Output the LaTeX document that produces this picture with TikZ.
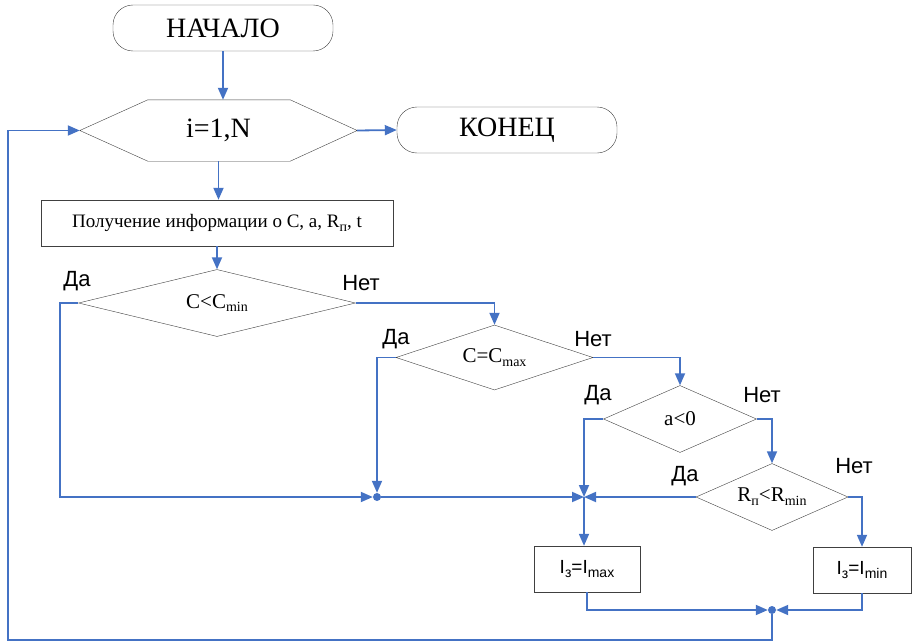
\documentclass[tikz,border=0pt]{standalone}
\usepackage{fontspec}
\setmainfont{Liberation Serif}
\newfontfamily\labelfont{Liberation Sans}
\usetikzlibrary{shapes.geometric,arrows.meta}
\definecolor{lineblue}{HTML}{4472C4}
\newcommand{\lowidx}[1]{\raisebox{-0.4ex}{\fontsize{14}{14}\selectfont #1}}

\begin{document}
\begin{tikzpicture}[x=1pt, y=-1pt, >={Triangle[length=12pt,width=10pt]},
   flow/.style={draw=lineblue, line width=1.8pt},
   term/.style={draw=black!75, rounded corners=20pt, minimum width=220pt,
     minimum height=46pt, font=\fontsize{28}{32}\selectfont},
   cond/.style={diamond, draw=black!75, inner sep=0pt, font=\fontsize{21}{24}\selectfont},
   proc/.style={draw=black!75, minimum height=46pt},
   answer/.style={font=\labelfont\fontsize{22}{24}\selectfont},
   joint/.style={circle, fill=lineblue, inner sep=0pt, minimum size=8pt}
   ]
   \useasboundingbox (0,0) rectangle (912,642);

   \node[term] (start) at (223,28) {НАЧАЛО};
   \node[minimum width=277pt, minimum height=61pt, font=\fontsize{28}{32}\selectfont] (loop) at (218.5,130.5) {i=1,N};
   \draw[black!75] (loop.west) -- ([xshift=68pt]loop.north west) -- ([xshift=-67pt]loop.north east)
     -- (loop.east) -- ([xshift=-67pt]loop.south east) -- ([xshift=68pt]loop.south west) -- cycle;
   \node[term] (stop) at (507,130) {КОНЕЦ};
   \node[proc, minimum width=352pt, font=\fontsize{19}{21}\selectfont] (input) at (217,223)
     {Получение информации о C, a, R\lowidx{п}, t};

   \node[cond, aspect=4.13, minimum width=277pt, minimum height=67pt] (cmin) at (217,303) {C\textless C\lowidx{min}};
   \node[cond, aspect=3.03, minimum width=197pt, minimum height=65pt] (cmax) at (494.5,357.5) {C=C\lowidx{max}};
   \node[cond, aspect=2.28, minimum width=153pt, minimum height=67pt] (aneg) at (680,419) {a\textless 0};
   \node[cond, aspect=2.27, minimum width=152pt, minimum height=67pt] (rmin) at (772,497) {R\lowidx{п}\textless R\lowidx{min}};

   \node[proc, minimum width=106pt, font=\labelfont\fontsize{19}{22}\selectfont] (imax) at (587,569) {I\lowidx{з}=I\lowidx{max}};
   \node[proc, minimum width=98pt, font=\labelfont\fontsize{19}{22}\selectfont] (imin) at (862,570) {I\lowidx{з}=I\lowidx{min}};

   % junctions
   \node[joint] (j1) at (377,497) {};
   \coordinate (j2) at (584,497);
   \node[joint] (j3) at (772,610) {};
   \coordinate (back) at (8,640);

   % Da / Net
   \node[answer] (yes1) at (77,281) {Да};
   \node[answer] (no1) at (361,283) {Нет};
   \node[answer] (yes2) at (396,339) {Да};
   \node[answer] (no2) at (593,339) {Нет};
   \node[answer] (yes3) at (598,395) {Да};
   \node[answer] (no3) at (762,395) {Нет};
   \node[answer] (yes4) at (685,476) {Да};
   \node[answer] (no4) at (854,466) {Нет};

   \draw[flow,->] (start) -- (start |- loop.north);
   \draw[flow,->] (loop.east) -- (stop.west);
   \draw[flow,->] (loop.south) -- (loop.south |- input.north);
   \draw[flow,->] (input) -- (cmin);
   \draw[flow,->] (cmin.west) -- ++(-18,0) |- (j1);
   \draw[flow,->] (cmin.east) -| (cmax.north);
   \draw[flow,->] (cmax.west) -| (j1);
   \draw[flow,->] (cmax.east) -| (aneg.north);
   \draw[flow,->] (j1) -- (j2);
   \draw[flow,->] (aneg.west) -| (j2);
   \draw[flow,->] (aneg.east) -| (rmin.north);
   \draw[flow,->] (rmin.west) -- (j2);
   \draw[flow,->] (rmin.east) -| (imin.north);
   \draw[flow,->] (j2) -- (j2 |- imax.north);
   \draw[flow,->] (imax.south) |- (j3);
   \draw[flow,->] (imin.south) |- (j3);
   \draw[flow,->] (j3) |- (back) |- (loop.west);
\end{tikzpicture}
\end{document}
